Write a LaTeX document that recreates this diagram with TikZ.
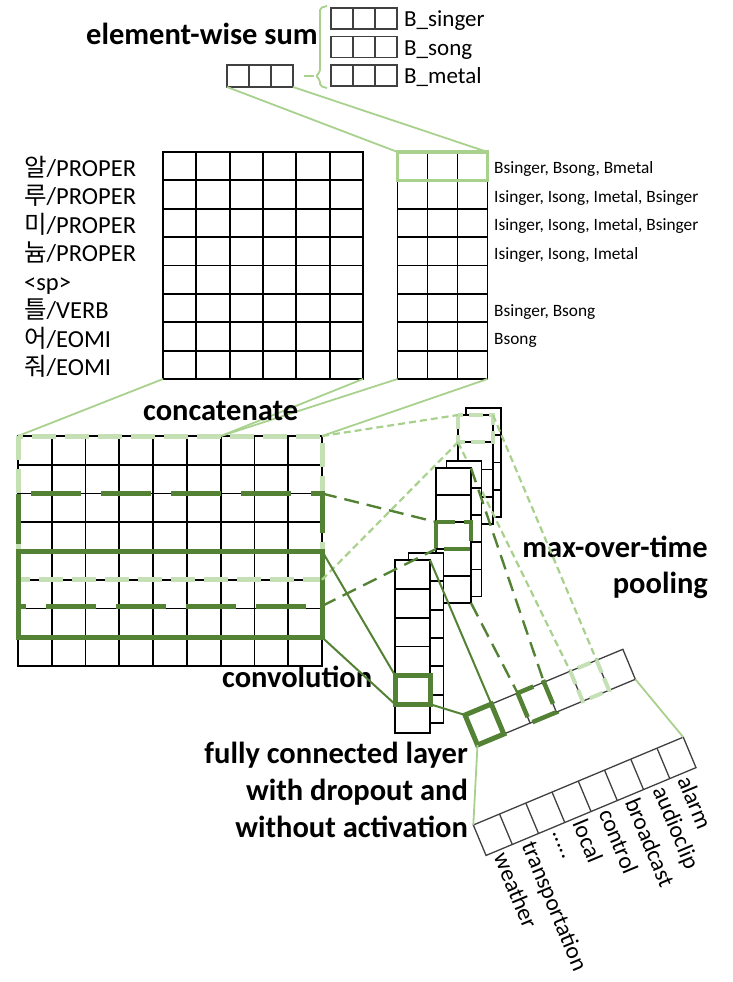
\documentclass[tikz,border=0pt]{standalone}
\usepackage{fontspec}
\setmainfont{Carlito}
\newfontfamily\krfont{Noto Sans CJK KR}
\usetikzlibrary{calc}
\definecolor{dg}{HTML}{548235}
\definecolor{lg}{HTML}{A9D18E}
\definecolor{pg}{HTML}{C5E0B4}
\newcommand{\mygrid}[7][]{%
  \pgfmathsetmacro{\mgW}{(#4-#2)/#6}%
  \pgfmathsetmacro{\mgH}{(#5-#3)/#7}%
  \pgfmathtruncatemacro{\mgC}{#6-1}%
  \pgfmathtruncatemacro{\mgR}{#7-1}%
  \ifnum\mgC>0 \foreach \i in {1,...,\mgC} {\draw[#1] ({#2+\i*\mgW},#3) -- ({#2+\i*\mgW},#5);}\fi
  \ifnum\mgR>0 \foreach \j in {1,...,\mgR} {\draw[#1] (#2,{#3+\j*\mgH}) -- (#4,{#3+\j*\mgH});}\fi
  \draw[#1] (#2,#3) rectangle (#4,#5);
}
\newcommand{\mycol}[6][]{%
  \fill[white] (#2,#3) rectangle (#4,#5);
  \mygrid[#1]{#2}{#3}{#4}{#5}{1}{#6}%
}
\begin{document}
\begin{tikzpicture}[x=1pt,y=-1pt,
  gridline/.style={line width=1.8pt, black},
  colgrid/.style={line width=1.7pt, black},
  thingrid/.style={line width=1.3pt, black!75},
  lgline/.style={lg, line width=1.8pt},
  lgdash/.style={lg, line width=2.2pt, dash pattern=on 7pt off 4pt},
  dgdash/.style={dg, line width=2.4pt, dash pattern=on 15pt off 8pt},
  dgline/.style={dg, line width=2pt},
  boldlab/.style={font=\fontsize{30.5}{34}\selectfont\bfseries, inner sep=0pt},
  poslab/.style={font=\fontsize{24.5}{26}\selectfont, anchor=base west, inner sep=0pt},
  blab/.style={font=\fontsize{23}{24}\selectfont, anchor=base west, inner sep=0pt},
  dictlab/.style={font=\fontsize{17.3}{18}\selectfont, anchor=base west, inner sep=0pt},
  outlab/.style={font=\fontsize{23.5}{24}\selectfont, anchor=west, rotate=-67.4, inner sep=0pt},
]
\useasboundingbox (0,0) rectangle (733,982);

% ---------- top: element-wise sum ----------
\mygrid[thingrid]{331}{8}{397}{29}{3}{1}
\mygrid[thingrid]{331}{36.5}{397}{57.5}{3}{1}
\mygrid[thingrid]{331}{65}{397}{86}{3}{1}
\mygrid[thingrid]{227}{65}{293}{87}{3}{1}
\coordinate (sum-sw) at (227,87);
\coordinate (sum-se) at (293,87);
\coordinate (tick-a) at (304,76);
\coordinate (tick-b) at (314,76);
\draw[lgline] (tick-a) -- (tick-b);
\draw[lgline, rounded corners=2pt] (327,6) -- (320,8) -- (320,72) -- (316,76) -- (320,80) -- (320,86) -- (327,88);

\node[boldlab, anchor=base west] (lab-sum) at (86,45) {element-wise sum};
\node[blab] (lab-bsinger) at (404,27) {B\_singer};
\node[blab] (lab-bsong) at (404,56) {B\_song};
\node[blab] (lab-bmetal) at (404,84) {B\_metal};

% ---------- embedding matrix + dictionary matrix ----------
\mygrid[gridline]{163}{152}{363}{379}{6}{8}
\mygrid[gridline]{397.5}{152}{487.5}{379}{3}{8}
\draw[lg, line width=3.5pt] (397.5,152) rectangle (487.5,180.4);
\coordinate (dictrow-nw) at (397.5,152);
\coordinate (dictrow-ne) at (487.5,152);
\coordinate (emb-sw) at (163,379);
\coordinate (emb-se) at (363,379);
\coordinate (dict-sw) at (397.5,379);
\coordinate (dict-se) at (487.5,379);

\draw[lgline] (sum-sw) -- (dictrow-nw);
\draw[lgline] (sum-se) -- (dictrow-ne);

\node[poslab] (pos1) at (24,176) {{\krfont 알}/PROPER};
\node[poslab] (pos2) at (24,204.5) {{\krfont 루}/PROPER};
\node[poslab] (pos3) at (24,233) {{\krfont 미}/PROPER};
\node[poslab] (pos4) at (24,261.5) {{\krfont 늄}/PROPER};
\node[poslab] (pos5) at (24,290) {\textless sp\textgreater};
\node[poslab] (pos6) at (24,318.5) {{\krfont 틀}/VERB};
\node[poslab] (pos7) at (24,347) {{\krfont 어}/EOMI};
\node[poslab] (pos8) at (24,375.5) {{\krfont 줘}/EOMI};

\node[dictlab] (d1) at (494,173.5) {Bsinger, Bsong, Bmetal};
\node[dictlab] (d2) at (494,202) {Isinger, Isong, Imetal, Bsinger};
\node[dictlab] (d3) at (494,230.5) {Isinger, Isong, Imetal, Bsinger};
\node[dictlab] (d4) at (494,259) {Isinger, Isong, Imetal};
\node[dictlab] (d6) at (494,316) {Bsinger, Bsong};
\node[dictlab] (d7) at (494,344.5) {Bsong};

% ---------- concatenated matrix ----------
\mygrid[gridline]{18}{436}{322}{666}{9}{8}
\coordinate (cat-nw) at (18,436);
\coordinate (cat-split) at (221,436);
\coordinate (cat-ne) at (322,436);
\draw[lgline] (emb-sw) -- (cat-nw);
\draw[lgline] (emb-se) -- (cat-split);
\draw[lgline] (dict-sw) -- (cat-split);
\draw[lgline] (dict-se) -- (cat-ne);

% filter windows
\draw[pg, line width=5pt, dash pattern=on 24pt off 9pt] (18,436) rectangle (322,579.75);
\draw[dg, line width=5pt, dash pattern=on 50pt off 20pt] (18,493.5) rectangle (322,606);
\draw[dg, line width=5pt] (18,551) rectangle (322,637.25);
\coordinate (lw-se) at (322,579.75);
\coordinate (dw-ne) at (322,493.5);
\coordinate (dw-se) at (322,606);
\coordinate (sw-ne) at (322,551);
\coordinate (sw-se) at (322,637.25);

\node[boldlab, anchor=base west] (lab-concat) at (143,420) {concatenate};
\node[boldlab, anchor=base west] (lab-conv) at (222,687) {convolution};

% ---------- pooled vector: corner coordinates ----------
\begin{scope}[shift={(465,715)}, rotate=22.6]
  \coordinate (p-tl) at (0,0);
  \coordinate (p-bl) at (0,32.5);
  \coordinate (p-br) at (171,32.5);
  \coordinate (p1-tr) at (28.5,0);
  \coordinate (p3-tl) at (57,0);
  \coordinate (p3-tr) at (85.5,0);
  \coordinate (p5-tl) at (114,0);
  \coordinate (p5-tr) at (142.5,0);
\end{scope}

% ---------- feature maps (stacks) ----------
\coordinate (th-nw) at (458,415);
\coordinate (th-sw) at (458,442.25);
\coordinate (th-ne) at (493,415);
\coordinate (mh-nw) at (436,522);
\coordinate (mh-sw) at (436,549);
\coordinate (mf-ne) at (471,468);
\coordinate (mf-se) at (471,603);
\coordinate (lh-nw) at (395,675.3);
\coordinate (lh-sw) at (395,704.2);
\coordinate (lh-se) at (430,704.2);
\coordinate (lf-ne) at (430,560);

\mycol[colgrid]{466}{408}{501}{517}{4}
\mycol[colgrid]{458}{415}{493}{524}{4}
\draw[pg, line width=4pt, dash pattern=on 14pt off 6pt] (458,415) rectangle (493,442.25);
\draw[lgdash] (th-sw) -- (p5-tl);
\mycol[colgrid]{446.5}{461}{481.5}{596.5}{5}
\mycol[colgrid]{436}{468}{471}{603}{5}
\draw[dg, line width=4.5pt, dash pattern=on 26pt off 9pt] (436,522) rectangle (471,549);
\mycol[colgrid]{408.5}{553}{443.5}{723}{6}
\mycol[colgrid]{395}{560}{430}{733}{6}
\draw[dg, line width=5pt] (395,675.3) rectangle (430,704.2);

\draw[lgdash] (cat-ne) -- (th-nw);
\draw[lgdash] (lw-se) -- (th-sw);
\draw[dgdash] (dw-ne) -- (mh-nw);
\draw[dgdash] (dw-se) -- (mh-sw);
\draw[dgline] (sw-ne) -- (lh-nw);
\draw[dgline] (sw-se) -- (lh-sw);

\node[boldlab, anchor=base east] (lab-max1) at (708,557) {max-over-time};
\node[boldlab, anchor=base east] (lab-max2) at (708,593) {pooling};

% ---------- pooled vector ----------
\begin{scope}[shift={(465,715)}, rotate=22.6]
  \fill[white] (0,0) rectangle (171,32.5);
  \mygrid[thingrid]{0}{0}{171}{32.5}{6}{1}
  \draw[dg, line width=5pt] (0,0) rectangle (28.5,32.5);
  \draw[dg, line width=4.5pt, dash pattern=on 26pt off 9pt] (57,0) rectangle (85.5,32.5);
  \draw[pg, line width=4pt, dash pattern=on 14pt off 6pt] (114,0) rectangle (142.5,32.5);
\end{scope}

\draw[dgline] (lf-ne) -- (p1-tr);
\draw[dgline] (lh-se) -- (p-tl);
\draw[dgdash] (mf-ne) -- (p3-tr);
\draw[dgdash] (mf-se) -- (p3-tl);
\draw[lgdash] (th-ne) -- (p5-tr);

% ---------- output layer ----------
\begin{scope}[shift={(473.3,825)}, rotate=22.7]
  \mygrid[thingrid]{0}{0}{227.6}{33}{8}{1}
  \coordinate (f-tl) at (0,0);
  \coordinate (f-tr) at (227.6,0);
  \node[outlab] (out-1) at (14.2,37) {weather};
  \node[outlab] (out-2) at (42.7,37) {transportation};
  \node[outlab] (out-3) at (71.1,37) {.....};
  \node[outlab] (out-4) at (99.6,37) {local};
  \node[outlab] (out-5) at (128.0,37) {control};
  \node[outlab] (out-6) at (156.5,37) {broadcast};
  \node[outlab] (out-7) at (184.9,37) {audioclip};
  \node[outlab] (out-8) at (213.4,37) {alarm};
\end{scope}
\draw[lgline] (p-bl) -- (f-tl);
\draw[lgline] (p-br) -- (f-tr);

\node[boldlab, anchor=base east] (lab-fc1) at (468,763) {fully connected layer};
\node[boldlab, anchor=base east] (lab-fc2) at (468,800) {with dropout and};
\node[boldlab, anchor=base east] (lab-fc3) at (468,837) {without activation};
\end{tikzpicture}
\end{document}
